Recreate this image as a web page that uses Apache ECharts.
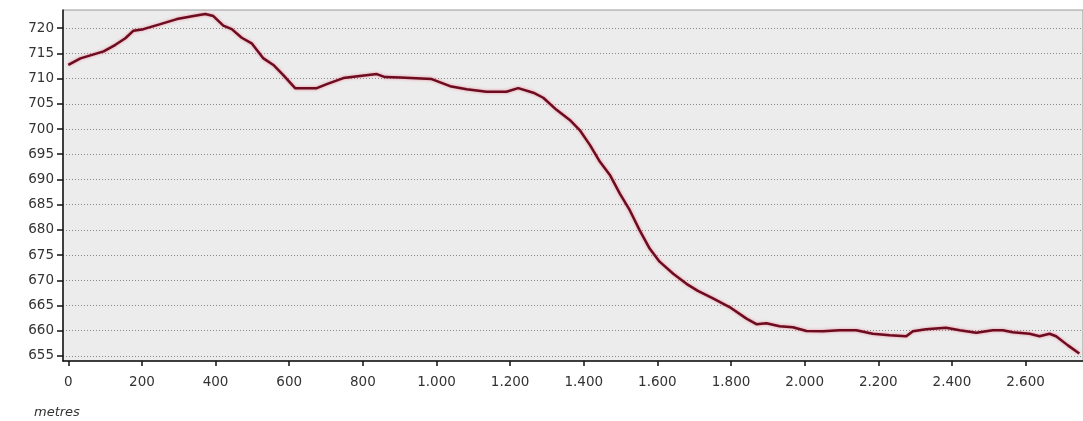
<!DOCTYPE html>
<html>
<head>
<meta charset="utf-8">
<script src="https://cdn.jsdelivr.net/npm/echarts@6/dist/echarts.min.js"></script>
<style>
html,body{margin:0;padding:0;background:#ffffff;}
#chart{width:1083px;height:421px;}
</style>
</head>
<body>
<div id="chart"></div>
<script>
// distance along route (metres)
var distances = [0, 33, 69, 96, 128, 155, 177, 204, 250, 295, 340, 372, 394, 421, 444, 471, 498, 530, 557, 584, 616, 675, 702, 747, 792, 838, 860, 901, 987, 1037, 1082, 1136, 1190, 1222, 1263, 1290, 1326, 1362, 1389, 1417, 1444, 1471, 1498, 1525, 1552, 1579, 1606, 1643, 1679, 1710, 1751, 1796, 1842, 1869, 1896, 1932, 1968, 2005, 2050, 2095, 2140, 2185, 2231, 2276, 2294, 2330, 2384, 2421, 2466, 2511, 2538, 2565, 2611, 2638, 2665, 2683, 2715, 2746];
// elevation (m)
var elevations = [712.7, 714.0, 714.8, 715.4, 716.7, 718.0, 719.5, 719.8, 720.8, 721.8, 722.4, 722.8, 722.4, 720.5, 719.8, 718.1, 717.0, 714.0, 712.7, 710.7, 708.1, 708.1, 708.9, 710.1, 710.5, 710.9, 710.3, 710.2, 709.9, 708.5, 707.9, 707.4, 707.4, 708.1, 707.2, 706.2, 703.8, 701.8, 699.8, 696.8, 693.5, 690.9, 687.2, 683.9, 679.9, 676.3, 673.7, 671.3, 669.3, 667.9, 666.4, 664.7, 662.4, 661.3, 661.5, 660.9, 660.7, 659.95, 659.9, 660.1, 660.1, 659.4, 659.1, 658.9, 659.9, 660.3, 660.6, 660.1, 659.6, 660.1, 660.1, 659.7, 659.4, 658.9, 659.4, 658.9, 657.1, 655.5];
// tick labels
var xTicks = [0, 200, 400, 600, 800, 1000, 1200, 1400, 1600, 1800, 2000, 2200, 2400, 2600];
var yTicks = [655, 660, 665, 670, 675, 680, 685, 690, 695, 700, 705, 710, 715, 720];

var points = distances.map(function (d, i) { return [d, elevations[i]]; });

function fmtThousands(v) {
  var s = String(Math.round(v));
  return s.replace(/\B(?=(\d{3})+(?!\d))/g, '.');
}

var chart = echarts.init(document.getElementById('chart'), null, {renderer: 'canvas'});
chart.setOption({
  animation: false,
  backgroundColor: '#ffffff',
  title: {
    text: 'metres',
    left: 29,
    top: 401,
    textStyle: {fontFamily: 'DejaVu Sans', fontSize: 13, fontStyle: 'italic', fontWeight: 'normal', color: '#333'}
  },
  grid: {
    left: 63, right: 0, top: 10, bottom: 60,
    show: true,
    backgroundColor: '#ececec',
    borderColor: '#9a9a9a',
    borderWidth: 1
  },
  xAxis: {
    type: 'value',
    min: -14.4,
    max: 2756,
    axisLine: {show: true, onZero: false, lineStyle: {color: '#111', width: 1.5}},
    axisTick: {show: true, length: 5, customValues: xTicks, lineStyle: {color: '#111', width: 1.5}},
    axisLabel: {
      customValues: xTicks,
      margin: 14,
      fontFamily: 'DejaVu Sans', fontSize: 13.5, color: '#333',
      formatter: function (v) { return fmtThousands(v); }
    },
    splitLine: {show: false}
  },
  yAxis: {
    type: 'value',
    min: 654.0,
    max: 723.6,
    axisLine: {show: true, onZero: false, lineStyle: {color: '#111', width: 1.5}},
    axisTick: {show: true, length: 6, customValues: yTicks, lineStyle: {color: '#111', width: 1.5}},
    axisLabel: {
      customValues: yTicks,
      margin: 9,
      fontFamily: 'DejaVu Sans', fontSize: 13.5, color: '#333'
    },
    splitLine: {show: true, lineStyle: {color: '#8a8a8a', type: [1, 2], width: 1}}
  },
  series: [{
    type: 'line',
    data: points,
    showSymbol: false,
    smooth: false,
    lineStyle: {color: '#6d0c1f', width: 2.5, shadowColor: 'rgba(230,60,90,0.55)', shadowBlur: 3}
  }]
});
</script>
</body>
</html>
